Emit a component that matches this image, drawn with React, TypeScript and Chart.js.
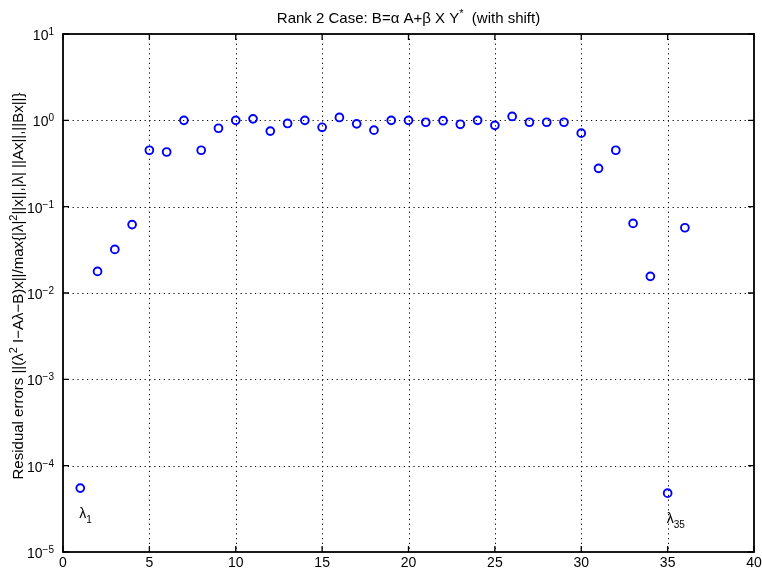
import React, { useEffect, useRef } from "react";
import { Chart, registerables } from "chart.js";

Chart.register(...registerables);

const indices = [1,2,3,4,5,6,7,8,9,10,11,12,13,14,15,16,17,18,19,20,21,22,23,24,25,26,27,28,29,30,31,32,33,34,35,36];
const residuals = [5.5e-5,0.0178,0.032,0.062,0.45,0.43,1.0,0.45,0.81,1.0,1.04,0.75,0.92,1.0,0.83,1.08,0.91,0.77,1.0,1.0,0.95,0.99,0.9,1.0,0.875,1.11,0.95,0.95,0.95,0.71,0.278,0.45,0.064,0.0156,4.8e-5,0.057];
const xTicks = [0,5,10,15,20,25,30,35,40];
const yTickExps = [-5,-4,-3,-2,-1,0,1];
const annotations = [{ idx: 1, sub: "1" }, { idx: 35, sub: "35" }];

const FONT = "Liberation Sans, Arial, Helvetica, sans-serif";

type Part = { t: string; sup?: boolean; sub?: boolean };

function drawSupText(ctx: CanvasRenderingContext2D, parts: Part[], size: number, raise = size * 0.42) {
  let x = 0;
  for (const p of parts) {
    const s = p.sup || p.sub ? Math.round(size * 0.72) : size;
    ctx.font = `${s}px ${FONT}`;
    const dy = p.sup ? -raise : p.sub ? size * 0.35 : 0;
    ctx.fillText(p.t, x, dy);
    x += ctx.measureText(p.t).width;
  }
  return x;
}
function measureParts(ctx: CanvasRenderingContext2D, parts: Part[], size: number) {
  let x = 0;
  for (const p of parts) {
    const s = p.sup || p.sub ? Math.round(size * 0.72) : size;
    ctx.font = `${s}px ${FONT}`;
    x += ctx.measureText(p.t).width;
  }
  return x;
}

const matlabPlugin = {
  id: "matlabAxes",
  beforeDatasetsDraw(chart: any) {
    const { ctx, chartArea: a, scales } = chart;
    const xs = scales.x, ys = scales.y;
    ctx.save();
    ctx.strokeStyle = "#000";
    ctx.lineWidth = 1;
    ctx.setLineDash([1.2, 3.6]);
    for (const t of xTicks) {
      if (t === xTicks[0] || t === xTicks[xTicks.length - 1]) continue;
      const px = Math.round(xs.getPixelForValue(t)) + 0.5;
      ctx.beginPath(); ctx.moveTo(px, a.top); ctx.lineTo(px, a.bottom); ctx.stroke();
    }
    for (const e of yTickExps) {
      if (e === yTickExps[0] || e === yTickExps[yTickExps.length - 1]) continue;
      const py = Math.round(ys.getPixelForValue(Math.pow(10, e))) + 0.5;
      ctx.beginPath(); ctx.moveTo(a.left, py); ctx.lineTo(a.right, py); ctx.stroke();
    }
    ctx.restore();
  },
  afterDraw(chart: any) {
    const { ctx, chartArea: a, scales } = chart;
    const xs = scales.x, ys = scales.y;
    ctx.save();
    ctx.setLineDash([]);
    ctx.strokeStyle = "#000";
    ctx.fillStyle = "#000";
    ctx.lineWidth = 1.8;
    ctx.strokeRect(a.left, a.top, a.right - a.left, a.bottom - a.top);
    ctx.lineWidth = 1.3;
    const tl = 6;
    for (const t of xTicks) {
      const px = xs.getPixelForValue(t);
      ctx.beginPath();
      ctx.moveTo(px, a.bottom); ctx.lineTo(px, a.bottom - tl);
      ctx.moveTo(px, a.top); ctx.lineTo(px, a.top + tl);
      ctx.stroke();
      ctx.font = `14px ${FONT}`;
      ctx.textAlign = "center";
      ctx.textBaseline = "middle";
      ctx.fillText(String(t), px, a.bottom + 11);
    }
    for (const e of yTickExps) {
      const py = ys.getPixelForValue(Math.pow(10, e));
      ctx.beginPath();
      ctx.moveTo(a.left, py); ctx.lineTo(a.left + tl, py);
      ctx.moveTo(a.right, py); ctx.lineTo(a.right - tl, py);
      ctx.stroke();
      const parts: Part[] = [{ t: "10" }, { t: e < 0 ? "\u2212" + String(-e) : String(e), sup: true }];
      const w = measureParts(ctx, parts, 14);
      ctx.save();
      ctx.textAlign = "left";
      ctx.textBaseline = "alphabetic";
      ctx.translate(a.left - 9 - w, py + 6);
      drawSupText(ctx, parts, 14, 5);
      ctx.restore();
    }
    // title
    const titleParts: Part[] = [
      { t: "Rank 2 Case: B=\u03b1 A+\u03b2 X Y" },
      { t: "*", sup: true },
      { t: "  (with shift)" },
    ];
    const tw = measureParts(ctx, titleParts, 15);
    ctx.save();
    ctx.textAlign = "left";
    ctx.textBaseline = "alphabetic";
    ctx.translate((a.left + a.right) / 2 - tw / 2, a.top - 11);
    drawSupText(ctx, titleParts, 15);
    ctx.restore();
    // y title
    const yParts: Part[] = [
      { t: "Residual errors ||(\u03bb" },
      { t: "2", sup: true },
      { t: " I\u2212A\u03bb\u2212B)x||/max{|\u03bb|" },
      { t: "2", sup: true },
      { t: "||x||,|\u03bb| ||Ax||,||Bx||}" },
    ];
    const yw = measureParts(ctx, yParts, 15);
    ctx.save();
    ctx.textAlign = "left";
    ctx.textBaseline = "alphabetic";
    ctx.translate(23, (a.top + a.bottom) / 2 - 7 + yw / 2);
    ctx.rotate(-Math.PI / 2);
    drawSupText(ctx, yParts, 15);
    ctx.restore();
    // annotations
    for (const an of annotations) {
      const px = xs.getPixelForValue(an.idx);
      const py = ys.getPixelForValue(residuals[an.idx - 1]);
      ctx.save();
      ctx.textAlign = "left";
      ctx.textBaseline = "alphabetic";
      ctx.translate(px - 1, py + 30);
      drawSupText(ctx, [{ t: "\u03bb" }, { t: an.sub, sub: true }], 14);
      ctx.restore();
    }
    ctx.restore();
  },
};

export default function App() {
  const ref = useRef<HTMLCanvasElement>(null);
  useEffect(() => {
    const canvas = ref.current!;
    const chart = new Chart(canvas, {
      type: "scatter",
      data: {
        datasets: [
          {
            data: indices.map((x, i) => ({ x, y: residuals[i] })),
            pointStyle: "circle",
            pointRadius: 3.9,
            pointBorderWidth: 1.9,
            pointBorderColor: "#0000ff",
            pointBackgroundColor: "rgba(0,0,0,0)",
            showLine: false,
          },
        ],
      },
      options: {
        responsive: false,
        animation: false,
        devicePixelRatio: 1,
        layout: { padding: { left: 63, right: 8, top: 34, bottom: 20 } },
        plugins: { legend: { display: false }, tooltip: { enabled: false }, title: { display: false } },
        scales: {
          x: { type: "linear", min: 0, max: 40, display: false },
          y: { type: "logarithmic", min: 1e-5, max: 10, display: false },
        },
      },
      plugins: [matlabPlugin],
    });
    return () => chart.destroy();
  }, []);
  return (
    <div style={{ position: "fixed", left: 0, top: 0, width: 762, height: 572, background: "#fff" }}>
      <canvas ref={ref} width={762} height={572} style={{ width: 762, height: 572, display: "block" }} />
    </div>
  );
}
